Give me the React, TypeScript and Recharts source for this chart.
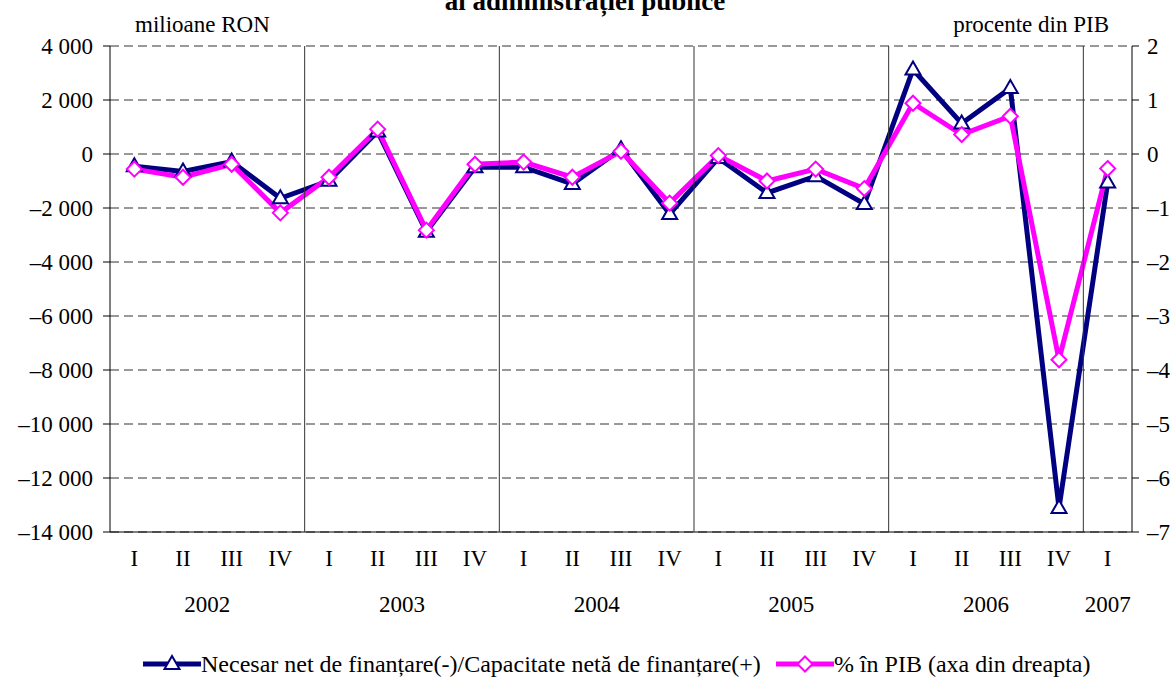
import React from "react";
import { LineChart, Line, XAxis, YAxis, CartesianGrid } from "recharts";

const quarters = ["I", "II", "III", "IV", "I", "II", "III", "IV", "I", "II", "III", "IV", "I", "II", "III", "IV", "I", "II", "III", "IV", "I"];
const years = [2002, 2002, 2002, 2002, 2003, 2003, 2003, 2003, 2004, 2004, 2004, 2004, 2005, 2005, 2005, 2005, 2006, 2006, 2006, 2006, 2007];

// milioane RON
const necesar = [-450, -650, -280, -1640, -990, 830, -2880, -490, -490, -1110, 180, -2220, -150, -1440, -820, -1850, 3130, 1130, 2440, -13110, -1060];
// procente din PIB
const pib = [-0.28, -0.43, -0.19, -1.09, -0.43, 0.46, -1.41, -0.19, -0.15, -0.43, 0.05, -0.91, -0.03, -0.5, -0.28, -0.64, 0.94, 0.36, 0.7, -3.81, -0.27];

const leftTicks = [-14000, -12000, -10000, -8000, -6000, -4000, -2000, 0, 2000, 4000];
const rightTicks = [-7, -6, -5, -4, -3, -2, -1, 0, 1, 2];

const NAVY = "#000080";
const PINK = "#FF00FF";
const FONT = "'Liberation Serif', 'Times New Roman', serif";

const W = 1176;
const H = 680;
const PLOT_LEFT = 110;
const PLOT_RIGHT = 1132;
const PLOT_TOP = 46;
const PLOT_BOTTOM = 532;
const STEP = (PLOT_RIGHT - PLOT_LEFT) / quarters.length;

const data = quarters.map((q, i) => ({ q, year: years[i], necesar: necesar[i], pib: pib[i] }));

const fmtThousands = (v: number) => {
  const s = Math.abs(v).toString().replace(/\B(?=(\d{3})+(?!\d))/g, " ");
  return v < 0 ? "\u2013" + s : s;
};
const fmtPct = (v: number) => (v < 0 ? "\u2013" + Math.abs(v) : String(v));

const Triangle = (props: any) => {
  const { cx, cy } = props;
  if (cx == null || cy == null) return null;
  return (
    <polygon
      points={`${cx},${cy - 8} ${cx - 7.5},${cy + 5} ${cx + 7.5},${cy + 5}`}
      fill="#fff"
      stroke={NAVY}
      strokeWidth={2}
    />
  );
};

const Diamond = (props: any) => {
  const { cx, cy } = props;
  if (cx == null || cy == null) return null;
  return (
    <polygon
      points={`${cx},${cy - 7.5} ${cx + 7.5},${cy} ${cx},${cy + 7.5} ${cx - 7.5},${cy}`}
      fill="#fff"
      stroke={PINK}
      strokeWidth={2}
    />
  );
};

// quarter label + year label + year separator line
const QuarterTick = (props: any) => {
  const { x, y, index, payload } = props;
  const yr = years[index];
  const first = index === 0 || years[index - 1] !== yr;
  const count = years.filter((v) => v === yr).length;
  return (
    <g>
      {first && index > 0 && (
        <line
          x1={x - STEP / 2}
          x2={x - STEP / 2}
          y1={y - (PLOT_BOTTOM - PLOT_TOP)}
          y2={y}
          stroke="#333"
          strokeWidth={1}
        />
      )}
      <text x={x} y={y + 34} textAnchor="middle" fill="#000" fontSize={23} fontFamily={FONT}>
        {payload.value}
      </text>
      {first && (
        <text x={x + ((count - 1) * STEP) / 2} y={y + 80} textAnchor="middle" fill="#000" fontSize={23} fontFamily={FONT}>
          {yr}
        </text>
      )}
    </g>
  );
};

const legendItems = [
  { label: "Necesar net de finan\u021Bare(-)/Capacitate net\u0103 de finan\u021Bare(+)", color: NAVY, shape: "tri" },
  { label: "% \u00EEn PIB (axa din dreapta)", color: PINK, shape: "dia" },
];

export default function App() {
  const tickStyle = { fill: "#000", fontSize: 23, fontFamily: FONT };
  return (
    <div style={{ position: "absolute", left: 0, top: 0, width: W, height: H, background: "#fff", fontFamily: FONT }}>
      <LineChart
        width={W}
        height={H}
        data={data}
        margin={{ top: PLOT_TOP, right: 0, left: 0, bottom: 48 }}
      >
        <CartesianGrid yAxisId="left" vertical={false} stroke="#333" strokeDasharray="9 5" />
        <XAxis
          dataKey="q"
          interval={0}
          height={100}
          padding={{ left: STEP / 2, right: STEP / 2 }}
          tickLine={false}
          tickSize={0}
          tickMargin={0}
          axisLine={{ stroke: "#000" }}
          tick={<QuarterTick />}
        />
        <YAxis
          yAxisId="left"
          width={PLOT_LEFT}
          domain={[-14000, 4000]}
          ticks={leftTicks}
          interval={0}
          tickFormatter={fmtThousands}
          tick={tickStyle}
          tickSize={7}
          tickMargin={10}
          axisLine={{ stroke: "#000" }}
          tickLine={{ stroke: "#000" }}
        />
        <YAxis
          yAxisId="right"
          orientation="right"
          width={W - PLOT_RIGHT}
          domain={[-7, 2]}
          ticks={rightTicks}
          interval={0}
          tickFormatter={fmtPct}
          tick={tickStyle}
          tickSize={7}
          tickMargin={8}
          axisLine={{ stroke: "#000" }}
          tickLine={{ stroke: "#000" }}
        />
        <Line
          yAxisId="left"
          type="linear"
          dataKey="necesar"
          stroke={NAVY}
          strokeWidth={5}
          dot={<Triangle />}
          isAnimationActive={false}
        />
        <Line
          yAxisId="right"
          type="linear"
          dataKey="pib"
          stroke={PINK}
          strokeWidth={5}
          dot={<Diamond />}
          isAnimationActive={false}
        />
      </LineChart>

      <div style={{ position: "absolute", left: 0, width: W - 6, top: -12, textAlign: "center", fontWeight: "bold", fontSize: 27, lineHeight: "27px" }}>
        al administra{"\u021B"}iei publice
      </div>
      <div style={{ position: "absolute", left: 135, top: 11, fontSize: 23, lineHeight: "27px" }}>milioane RON</div>
      <div style={{ position: "absolute", right: 1176 - 1109, top: 11, fontSize: 23, lineHeight: "27px" }}>procente din PIB</div>

      <div style={{ position: "absolute", left: 143, top: 649, display: "flex", alignItems: "center", gap: 15, fontSize: 24, lineHeight: "30px" }}>
        {legendItems.map((it) => (
          <div key={it.label} style={{ display: "flex", alignItems: "center" }}>
            <svg width={58} height={20}>
              <line x1={0} x2={58} y1={10} y2={10} stroke={it.color} strokeWidth={5} />
              {it.shape === "tri" ? <Triangle cx={29} cy={10} /> : <Diamond cx={29} cy={10} />}
            </svg>
            <span>{it.label}</span>
          </div>
        ))}
      </div>
    </div>
  );
}
